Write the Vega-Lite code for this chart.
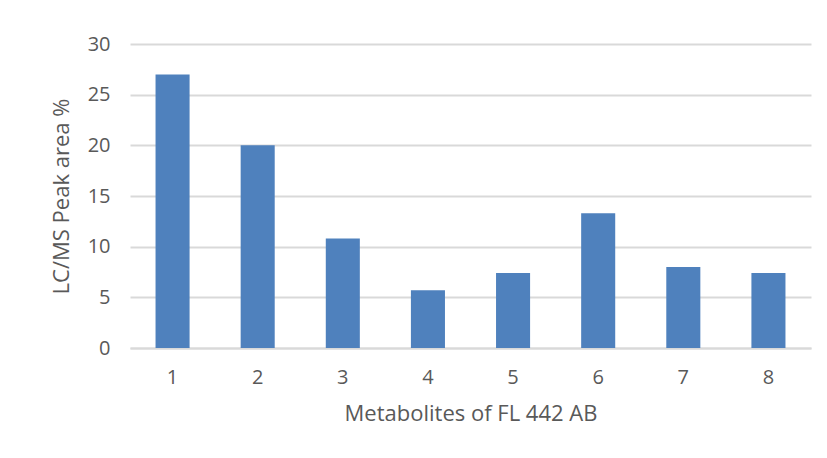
{
  "$schema": "https://vega.github.io/schema/vega-lite/v6.json",
  "autosize": {"type": "none"},
  "width": 681,
  "height": 304,
  "padding": {"left": 130, "top": 44, "right": 16, "bottom": 110},
  "background": "white",
  "config": {
    "view": {"stroke": null},
    "font": "Open Sans",
    "axis": {
      "labelFont": "Open Sans",
      "titleFont": "Open Sans",
      "labelColor": "#595959",
      "titleColor": "#595959",
      "labelFontSize": 20,
      "titleFontSize": 22,
      "titleFontWeight": "normal",
      "ticks": false
    }
  },
  "data": {
    "values": [
      {"metabolite": "1", "peak": 27.0},
      {"metabolite": "2", "peak": 20.0},
      {"metabolite": "3", "peak": 10.8},
      {"metabolite": "4", "peak": 5.7},
      {"metabolite": "5", "peak": 7.4},
      {"metabolite": "6", "peak": 13.3},
      {"metabolite": "7", "peak": 8.0},
      {"metabolite": "8", "peak": 7.4}
    ]
  },
  "mark": {"type": "bar", "color": "#4F81BD"},
  "encoding": {
    "x": {
      "field": "metabolite",
      "type": "ordinal",
      "scale": {"paddingInner": 0.6, "paddingOuter": 0.3},
      "axis": {
        "title": "Metabolites of FL 442 AB",
        "labelAngle": 0,
        "labelPadding": 19,
        "titlePadding": 16,
        "domainColor": "#D9D9D9",
        "domainWidth": 2,
        "grid": false
      }
    },
    "y": {
      "field": "peak",
      "type": "quantitative",
      "scale": {"domain": [0, 30]},
      "axis": {
        "title": "LC/MS Peak area %",
        "values": [0, 5, 10, 15, 20, 25, 30],
        "domain": false,
        "grid": true,
        "gridColor": "#D9D9D9",
        "gridWidth": 2,
        "labelPadding": 20,
        "titlePadding": 14
      }
    }
  }
}
